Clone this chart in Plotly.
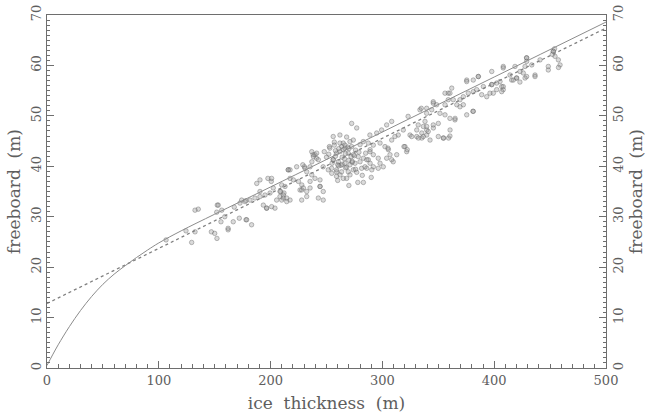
import plotly.graph_objects as go

# ---- data ----
ice_thickness = [
    106.5, 124.3, 129.4, 132.4, 135.3, 147, 150, 152, 152.3, 151.8, 155.6, 159, 162, 166.6, 167.5, 172, 172.6, 178, 178, 174.1, 177.1,
    162, 178.6, 183, 196.5, 205.4, 208.4, 211.4, 214.4, 217.4, 209, 212, 190.5, 187.6, 190.5, 215.8, 197.6, 200.6, 228.8, 230.3,
    238, 241, 252.6, 257, 263.6, 265, 266.5, 244.2, 247.1, 242.7, 247.1, 227.8, 232.3, 262.1, 268, 132.4, 153.2, 156.3,
    181.6, 186, 190.5, 195, 199.5, 202.4, 193.5, 196.4, 200.9, 203.9, 200.9, 208.4, 209.9, 212.9, 211.4, 209.9, 214.4, 215.8,
    217.4, 220.4, 224.9, 227.9, 229.3, 226.3, 217.4, 223.3, 230.8, 235.3, 227.8, 232.3, 235.3, 232.3, 236.8, 239.7, 244.2,
    235.3, 244.2, 239.7, 242.7, 236.9, 241.2, 238.3, 236.8, 247, 251.6, 254.7, 259, 253, 259, 256, 260,
    262, 266.5, 271, 272.5, 265, 269.5, 274, 278.4, 283, 256, 260.6, 266.5, 271, 275.5, 280, 254.6, 259, 263.5, 269.5, 274,
    281.4, 286, 259, 271, 284.4, 287.4, 291.9, 296.3, 300.8, 272.5, 277, 256, 262,
    258, 261, 264, 267, 270, 273, 276, 279, 263, 268, 277, 282, 257, 252, 255, 250, 248, 285, 289, 268, 274, 280, 260, 265,
    278, 270, 283, 290, 262, 266, 269, 272, 275, 258, 261, 264, 267, 270, 273, 276,
    323, 333.6, 339.6, 308.3, 303.8, 299.3, 294.9, 288.8, 332, 336.6, 330.7, 339.6, 318.7, 314.2, 311.2, 308.3, 324.7, 330.7,
    335.2, 339.6, 282.9, 287.4, 291.9, 297.9, 302.3, 305.3, 306.8, 303.8, 309.7, 288.9, 291.9, 296.3, 297.9, 320.2, 321.7,
    359.2, 354.7, 365, 381, 345.6, 326.2, 332.2, 319.3, 322.2, 305, 312.8, 308.3, 286, 289, 290.5,
    397.8, 402.2, 397.8, 390.3, 385.8, 381.3, 375.4, 376.8, 381.3, 372.4, 369.4, 388.8, 393.3, 396.2, 362, 358.9, 356, 363.4,
    366.5, 369.4, 372.4, 345.5, 348.5, 344.1, 339.6, 351.5, 356, 360.4, 364.9, 381.3, 338.1, 339.6, 335.2, 336.6, 345.5, 350,
    341, 350, 354.5, 360.4, 356, 358.9, 375.4, 342.6, 360.5,
    334.8, 345.5, 360.4, 375.4, 385.8, 408.1, 429, 452.9, 384.3, 415.6, 420, 436.5, 406.7, 408.1,
    452.9, 457.4, 458.9, 454.4, 448.4, 429, 429, 427.6, 433.6, 441, 423.1, 426, 429, 427.6, 436.5, 418.6, 408.1, 414.1, 417.1,
    420.1, 405.2, 408.1, 402.2, 397.8, 399.2, 406.7, 448.4, 454, 457.5, 452, 423,
]
freeboard = [
    25.4, 27.2, 24.9, 27.0, 31.5, 27, 26.7, 25.7, 32.3, 30.9, 29, 30, 27.4, 29, 31.9, 29.7, 32.7, 33.2, 29.4, 33.3, 33.0,
    27.7, 29.4, 28.4, 31.7, 33.3, 34, 33.7, 33, 33.3, 35, 34.7, 35, 36.6, 37.3, 39.3, 37.6, 37, 40.3, 39.9,
    42.3, 41.6, 43.9, 44.2, 43.9, 44.6, 43.6, 36, 35, 33.7, 33.3, 33.3, 34, 38.3, 37.6, 31.3, 32.3, 31.3,
    33.3, 33.7, 34, 34.3, 34.7, 35.7, 32.3, 31.7, 32, 31.7, 37.6, 35, 36.3, 36.0, 34.3, 33.3, 33.7, 39.3,
    37.6, 37.3, 37.0, 36.3, 35.7, 35.3, 39.3, 39.9, 39.6, 39.9, 35.3, 35.0, 35.7, 38.9, 38.3, 37.6, 37.3,
    37.0, 36.0, 42.3, 41.3, 40.9, 42.6, 41.9, 42.9, 39.9, 39.3, 38.6, 38.9, 43.6, 42.6, 41.3, 40.3,
    44.6, 44.2, 44.9, 43.9, 43.3, 42.6, 42.3, 41.9, 41.6, 41.3, 40.9, 40.6, 40.3, 40.6, 40.9, 39.6, 39.3, 38.9, 38.9, 39.3,
    39.6, 39.6, 38, 38.3, 39.9, 41.3, 39.9, 39.6, 39.9, 48.5, 47.6, 45.9, 46.2,
    42, 43.5, 41.8, 42.5, 41.2, 40.8, 43.2, 42.8, 40.2, 39.8, 38.8, 38.2, 44.8, 42.4, 40.6, 41.8, 42.9, 42.6, 43.3, 45.8, 45.2, 44.3, 37.2, 37.6,
    36.8, 36.2, 36.8, 37.8, 42.9, 41.5, 43.8, 41.9, 42.1, 43.1, 40.1, 40.4, 39.7, 43.5, 41.0, 39.4,
    49.9, 51.2, 50.5, 48.9, 48.2, 47.2, 46.6, 46.2, 48.2, 47.9, 47.2, 47.2, 47.2, 46.2, 45.9, 45.2, 46.2, 45.9,
    45.6, 46.2, 44.9, 44.6, 44.2, 44.6, 43.9, 43.3, 42.3, 41.6, 40.9, 42.9, 42.3, 41.6, 40.6, 43.9, 42.9,
    45.6, 45.6, 49.5, 50.9, 47.6, 45.9, 45.6, 43.9, 43.3, 43.6, 42.3, 41.3, 41.3, 40.6, 39.3,
    58.8, 56.5, 56.2, 55.8, 57.8, 57.1, 57.1, 54.5, 54.8, 53.8, 53.2, 54.2, 53.8, 54.5, 55.5, 54.5, 54.5, 53.2,
    52.2, 51.8, 52.2, 52.5, 52.2, 51.2, 51.5, 50.5, 50.2, 49.5, 49.2, 50.9, 48.9, 47.9, 46.6, 45.9, 48.2, 48.5,
    46.9, 45.9, 45.6, 46.0, 52.2, 53.2, 50.2, 45.2, 47.2,
    51.5, 52.8, 54.5, 56.8, 57.8, 59.8, 61.5, 62.8, 55.2, 57.1, 57.5, 58.1, 55.8, 55.2,
    62.8, 61.1, 60.1, 61.8, 59.1, 61.5, 60.8, 59.8, 60.1, 61.1, 58.8, 58.5, 57.8, 57.5, 57.8, 59.8, 59.5, 58.1, 57.1,
    57.5, 56.8, 55.8, 55.2, 56.2, 54.5, 54.8, 59.8, 63.3, 59.6, 62.2, 56.7,
]

# fitted model curve (solid) and linear regression (dotted)
model_thickness = [0, 5, 10, 20, 30, 40, 50, 60, 70, 80, 90, 100, 120, 150, 200, 300, 400, 500]
model_freeboard = [0.5, 2.6, 4.6, 8.2, 11.4, 14.2, 16.6, 18.6, 20.3, 21.9, 23.4, 24.8, 27.2, 30.5, 35.9, 46.8, 57.7, 68.6]
regr_thickness = [0, 500]
regr_freeboard = [12.8, 67.4]

x_ticks = [0, 100, 200, 300, 400, 500]
y_ticks = [0, 10, 20, 30, 40, 50, 60, 70]

FONT = "DejaVu Serif"
TXT = "#5e5e5e"
AX = "#6e6e6e"

fig = go.Figure()
fig.add_trace(go.Scatter(
    x=ice_thickness, y=freeboard, mode="markers",
    marker=dict(size=4.5, color="rgba(150,150,150,0.35)",
                line=dict(width=0.8, color="rgba(95,95,95,0.5)")),
    showlegend=False, hoverinfo="skip"))
fig.add_trace(go.Scatter(
    x=model_thickness, y=model_freeboard, mode="lines",
    line=dict(color="#8c8c8c", width=1, shape="spline", smoothing=1.0),
    showlegend=False))
fig.add_trace(go.Scatter(
    x=regr_thickness, y=regr_freeboard, mode="lines", yaxis="y2",
    line=dict(color="#808080", width=1.3, dash="dot"),
    showlegend=False))

axis_common = dict(
    showgrid=False, zeroline=False, showline=True, linecolor=AX, linewidth=1,
    ticks="inside", ticklen=7, tickcolor=AX, tickwidth=1, automargin=False,
    ticklabeloverflow="allow",
    tickfont=dict(family=FONT, size=13, color=TXT),
)
title_font = dict(family=FONT, size=17, color=TXT)

fig.update_layout(
    width=657, height=420,
    margin=dict(l=47, r=51, t=15, b=52),
    paper_bgcolor="white", plot_bgcolor="white",
    xaxis=dict(
        range=[0, 500], tickvals=x_ticks, mirror=True,
        minor=dict(dtick=10, ticks="inside", ticklen=4, tickcolor=AX, tickwidth=1),
        title=dict(text="ice  thickness  (m)", font=title_font, standoff=10),
        **axis_common),
    yaxis=dict(
        range=[0, 70], tickvals=y_ticks, tickangle=-90,
        minor=dict(dtick=1, ticks="inside", ticklen=3, tickcolor=AX, tickwidth=1),
        title=dict(text="freeboard  (m)", font=title_font, standoff=3),
        **axis_common),
    yaxis2=dict(
        range=[0, 70], tickvals=y_ticks, tickangle=-90, overlaying="y", side="right",
        matches="y",
        minor=dict(dtick=1, ticks="inside", ticklen=3, tickcolor=AX, tickwidth=1),
        title=dict(text="freeboard  (m)", font=title_font, standoff=3),
        **axis_common),
)

# remove the browser's default body margin so the figure fills the window exactly
fig.write_html(
    "out.html",
    config={"displayModeBar": False, "staticPlot": True},
    post_script="document.body.style.margin='0';document.body.style.overflow='hidden';",
)
